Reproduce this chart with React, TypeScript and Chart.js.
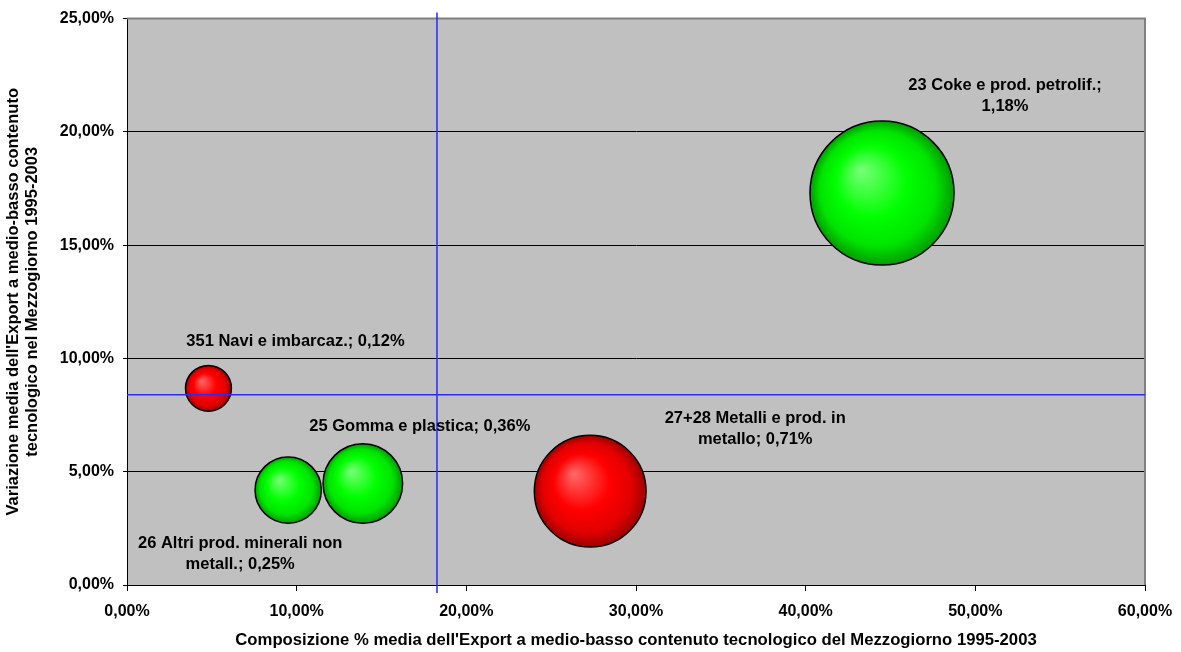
import { useEffect, useRef } from "react";
import { Chart, registerables } from "chart.js";

Chart.register(...registerables);

// Sectors of medium-low technology exports (Mezzogiorno, 1995-2003)
const SECTORS = [
  "23 Coke e prod. petrolif.",
  "351 Navi e imbarcaz.",
  "25 Gomma e plastica",
  "26 Altri prod. minerali non metall.",
  "27+28 Metalli e prod. in metallo",
];
// average share of the export mix (%)
const SHARE = [44.5, 4.8, 13.9, 9.5, 27.3];
// average yearly change of exports (%)
const GROWTH = [17.3, 8.68, 4.48, 4.19, 4.14];
// bubble weight (%)
const WEIGHT = [1.18, 0.12, 0.36, 0.25, 0.71];
// reference lines (averages)
const MEAN_SHARE = 18.27;
const MEAN_GROWTH = 8.4;

const X_MAX = 60;
const X_STEP = 10;
const Y_MAX = 25;
const Y_STEP = 5;

const X_TITLE =
  "Composizione % media dell'Export a medio-basso contenuto tecnologico del Mezzogiorno 1995-2003";
const Y_TITLE_LINES = [
  "Variazione media dell'Export a medio-basso contenuto",
  "tecnologico nel Mezzogiorno 1995-2003",
];

// presentation
const TONES: Array<"green" | "red"> = ["green", "red", "green", "green", "red"];
const LABEL_OFFSET: Array<[number, number]> = [
  [123, -97],
  [87, -47],
  [57, -57],
  [-48, 64],
  [165, -62],
];
const LABEL_WRAP = [200, 400, 400, 225, 190];
const BUBBLE_K = 66.3;

const FONT = '"Liberation Sans", Arial, sans-serif';

const fmtPct = (v: number) => v.toFixed(2).replace(".", ",") + "%";

const GRADIENTS = {
  green: ["#78ff78", "#00ff00", "#00e400", "#009c00"],
  red: ["#ff6a6a", "#ff0000", "#e20000", "#9c0000"],
};

function wrapText(ctx: CanvasRenderingContext2D, text: string, maxW: number) {
  const words = text.split(" ");
  const lines: string[] = [];
  let cur = "";
  for (const w of words) {
    const test = cur ? cur + " " + w : w;
    if (cur && ctx.measureText(test).width > maxW) {
      lines.push(cur);
      cur = w;
    } else {
      cur = test;
    }
  }
  if (cur) lines.push(cur);
  return lines;
}

const plotDecor = {
  id: "plotDecor",
  beforeDraw(chart: any) {
    const { ctx, chartArea: a } = chart;
    ctx.save();
    ctx.fillStyle = "#c0c0c0";
    ctx.fillRect(a.left, a.top, a.right - a.left, a.bottom - a.top);
    ctx.restore();
  },
  beforeDatasetsDraw(chart: any) {
    const { ctx, chartArea: a } = chart;
    ctx.save();
    ctx.strokeStyle = "#808080";
    ctx.lineWidth = 2;
    ctx.beginPath();
    ctx.moveTo(a.left, a.top);
    ctx.lineTo(a.right, a.top);
    ctx.lineTo(a.right, a.bottom);
    ctx.stroke();
    ctx.restore();

    // shaded fill for each bubble, built from its laid-out position
    const meta = chart.getDatasetMeta(0);
    meta.data.forEach((el: any, i: number) => {
      const r = el.options.radius;
      if (!isFinite(el.x) || !isFinite(el.y) || !isFinite(r)) return;
      const g = ctx.createRadialGradient(
        el.x - 0.3 * r,
        el.y - 0.32 * r,
        0,
        el.x,
        el.y,
        r
      );
      const s = GRADIENTS[TONES[i]];
      g.addColorStop(0, s[0]);
      g.addColorStop(0.5, s[1]);
      g.addColorStop(0.8, s[2]);
      g.addColorStop(1, s[3]);
      el.options.backgroundColor = g;
    });
  },
  afterDatasetsDraw(chart: any) {
    const { ctx, chartArea: a, scales } = chart;
    const mx = scales.x.getPixelForValue(MEAN_SHARE);
    const my = scales.y.getPixelForValue(MEAN_GROWTH);
    ctx.save();
    ctx.strokeStyle = "#2a2aff";
    ctx.lineWidth = 1.5;
    ctx.beginPath();
    ctx.moveTo(mx, a.top - 6);
    ctx.lineTo(mx, a.bottom + 8);
    ctx.moveTo(a.left, my);
    ctx.lineTo(a.right, my);
    ctx.stroke();

    // data labels
    const meta = chart.getDatasetMeta(0);
    ctx.fillStyle = "#000";
    ctx.font = `bold 16.5px ${FONT}`;
    ctx.textAlign = "center";
    ctx.textBaseline = "middle";
    meta.data.forEach((el: any, i: number) => {
      const text = `${SECTORS[i]}; ${fmtPct(WEIGHT[i])}`;
      const lines = wrapText(ctx, text, LABEL_WRAP[i]);
      const lh = 21;
      const cx = el.x + LABEL_OFFSET[i][0];
      const cy = el.y + LABEL_OFFSET[i][1];
      const y0 = cy - ((lines.length - 1) * lh) / 2;
      lines.forEach((ln, j) => ctx.fillText(ln, cx, y0 + j * lh));
    });
    ctx.restore();
  },
  afterDraw(chart: any) {
    const { ctx, chartArea: a } = chart;
    ctx.save();
    ctx.fillStyle = "#000";
    ctx.font = `bold 16.7px ${FONT}`;
    ctx.textAlign = "center";
    ctx.textBaseline = "middle";
    ctx.fillText(X_TITLE, (a.left + a.right) / 2, 640);
    ctx.font = `bold 16.5px ${FONT}`;
    ctx.translate(0, (a.top + a.bottom) / 2);
    ctx.rotate(-Math.PI / 2);
    Y_TITLE_LINES.forEach((ln, j) => ctx.fillText(ln, 0, 13 + j * 19));
    ctx.restore();
  },
};

export default function App() {
  const ref = useRef<HTMLCanvasElement | null>(null);

  useEffect(() => {
    document.body.style.margin = "0";
    const canvas = ref.current;
    if (!canvas) return;

    const points = SHARE.map((x, i) => ({
      x,
      y: GROWTH[i],
      r: BUBBLE_K * Math.sqrt(WEIGHT[i]),
    }));

    const chart = new Chart(canvas, {
      type: "bubble",
      data: {
        datasets: [
          {
            data: points,
            borderColor: "#000",
            borderWidth: 1.5,
            backgroundColor: "#00ff00",
          } as any,
        ],
      },
      options: {
        responsive: false,
        animation: false,
        events: [],
        layout: {
          autoPadding: false,
          padding: { top: 15, right: 36, left: 0, bottom: 0 },
        },
        plugins: {
          legend: { display: false },
          tooltip: { enabled: false },
        },
        scales: {
          x: {
            type: "linear",
            min: 0,
            max: X_MAX,
            afterFit: (s: any) => {
              s.height = 67;
              s.paddingLeft = 0;
              s.paddingRight = 0;
            },
            ticks: {
              stepSize: X_STEP,
              padding: 11,
              color: "#000",
              font: { family: FONT, size: 16, weight: "bold" },
              callback: (v: any) => fmtPct(Number(v)),
            },
            grid: {
              drawOnChartArea: false,
              drawTicks: true,
              tickLength: 6,
              color: "#000",
            },
            border: { display: true, color: "#000", width: 1 },
          },
          y: {
            type: "linear",
            min: 0,
            max: Y_MAX,
            afterFit: (s: any) => {
              s.width = 127;
            },
            ticks: {
              stepSize: Y_STEP,
              padding: 9,
              color: "#000",
              font: { family: FONT, size: 16, weight: "bold" },
              callback: (v: any) => fmtPct(Number(v)),
            },
            grid: {
              drawOnChartArea: true,
              drawTicks: true,
              tickLength: 4,
              color: "#000",
              lineWidth: 1,
            },
            border: { display: true, color: "#000", width: 1 },
          },
        },
      } as any,
      plugins: [plotDecor],
    });

    return () => chart.destroy();
  }, []);

  return (
    <div style={{ width: 1181, height: 652, background: "#fff" }}>
      <canvas ref={ref} width={1181} height={652} />
    </div>
  );
}
